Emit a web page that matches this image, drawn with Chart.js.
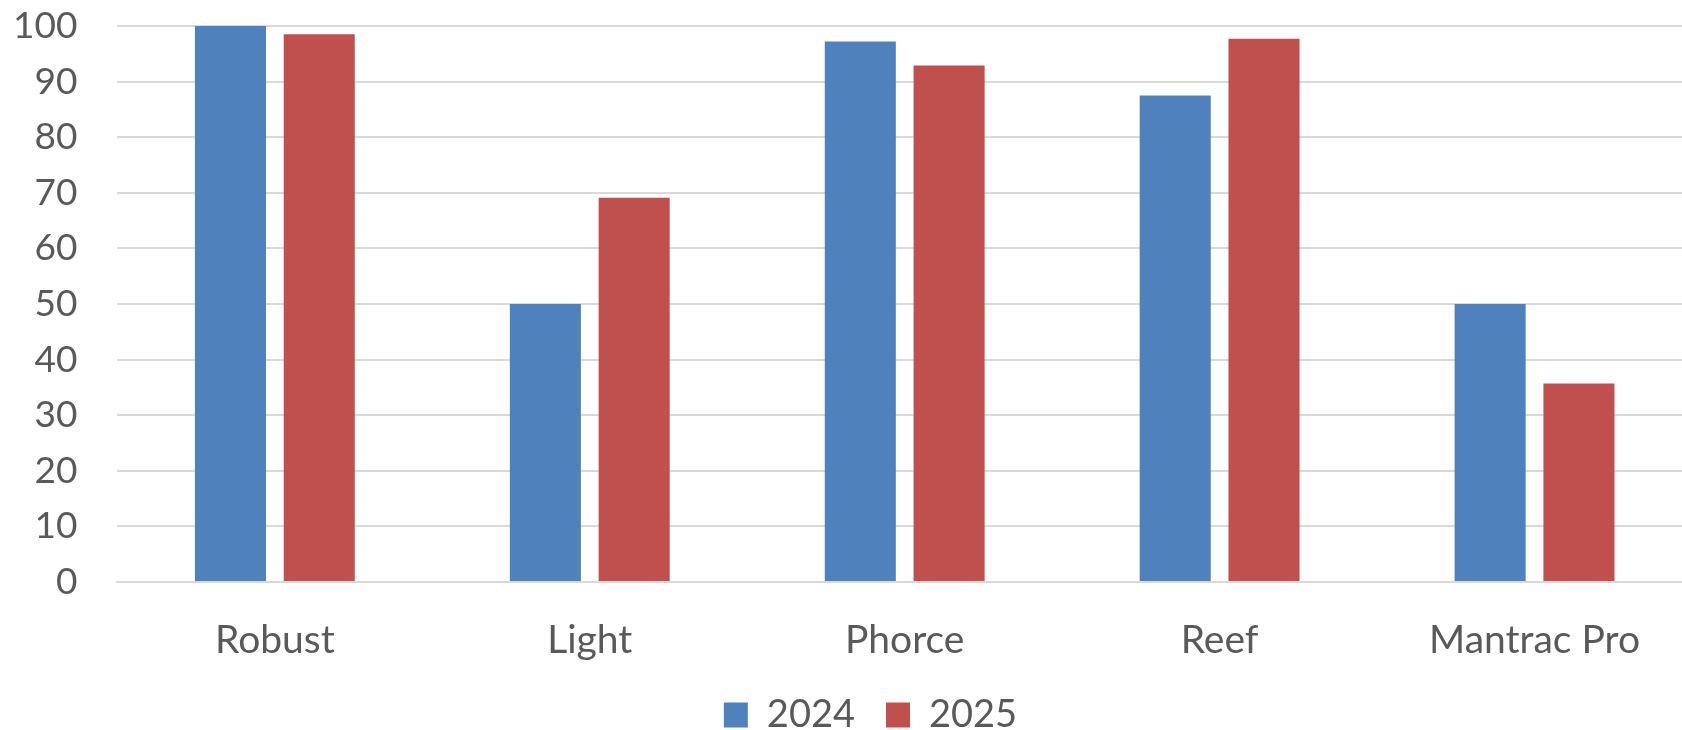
<!DOCTYPE html>
<html>
<head>
<meta charset="utf-8">
<script src="https://cdn.jsdelivr.net/npm/chart.js@4/dist/chart.umd.min.js"></script>
<style>
  html, body { margin: 0; padding: 0; background: #fff; overflow: hidden; }
  #wrap { width: 1682px; height: 730px; overflow: hidden; }
</style>
</head>
<body>
<div id="wrap"><canvas id="chart" width="1726" height="748"></canvas></div>
<script>
// chart data
const categories = ['Robust', 'Light', 'Phorce', 'Reef', 'Mantrac Pro'];
const values2024 = [100, 50, 97.2, 87.5, 50];
const values2025 = [98.5, 69.1, 92.9, 97.7, 35.7];
const yTicks = [0, 10, 20, 30, 40, 50, 60, 70, 80, 90, 100];

const textColor = '#595959';
const gridColor = '#d9d9d9';
const fontFamily = 'Lato, "Open Sans", sans-serif';

// nudge the legend a little to the right, like the original
const legendShift = {
    id: 'legendShift',
    afterLayout(chart) {
        chart.legend.left += 18;
        chart.legend.right += 18;
    }
};

const ctx = document.getElementById('chart').getContext('2d');
new Chart(ctx, {
    type: 'bar',
    data: {
        labels: categories,
        datasets: [
            { label: '2024', data: values2024, backgroundColor: '#4F81BD' },
            { label: '2025', data: values2025, backgroundColor: '#C0504D' }
        ]
    },
    plugins: [legendShift],
    options: {
        responsive: false,
        animation: false,
        categoryPercentage: 0.564,
        barPercentage: 0.8,
        layout: { padding: { top: 26, left: 13, right: 34, bottom: 4 } },
        plugins: {
            tooltip: { enabled: false },
            legend: {
                position: 'bottom',
                labels: {
                    color: textColor,
                    font: { family: fontFamily, size: 38 },
                    boxWidth: 24,
                    boxHeight: 25,
                    padding: 31
                }
            }
        },
        scales: {
            x: {
                grid: { display: false, drawTicks: true, tickLength: 35 },
                border: { color: gridColor, width: 2 },
                ticks: {
                    color: textColor,
                    font: { family: fontFamily, size: 39 },
                    padding: 0
                },
                afterFit: (scale) => { scale.height = 83; }
            },
            y: {
                min: 0,
                max: 100,
                afterBuildTicks: (axis) => { axis.ticks = yTicks.map(v => ({ value: v })); },
                grid: { color: gridColor, lineWidth: 2, drawTicks: true, tickLength: 40, tickColor: 'rgba(0,0,0,0)' },
                border: { display: false },
                ticks: {
                    color: textColor,
                    font: { family: fontFamily, size: 37 },
                    padding: 0
                }
            }
        }
    }
});
</script>
</body>
</html>
